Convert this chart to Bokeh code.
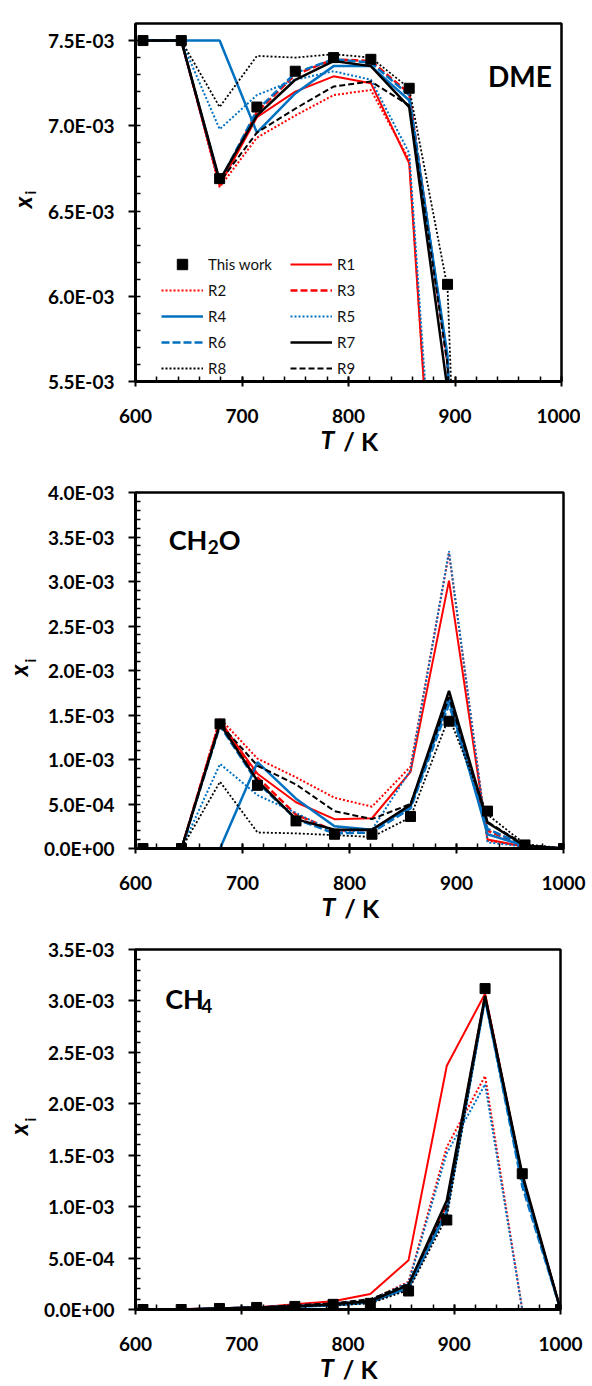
from bokeh.plotting import figure
from bokeh.layouts import column
from bokeh.models import (Range1d, FixedTicker, CustomJSTickFormatter, Label,
                          Legend, LegendItem)
from bokeh.embed import file_html
from bokeh.resources import INLINE
import numpy as np

# ---------------- data ----------------
T = [607, 643, 679, 714, 750, 786, 821, 857, 893, 929, 964, 1000]
T_DME = [607, 643, 679, 714, 750, 786, 821, 857, 893, 929]

# DME mole fraction
dme_exp = [7.50e-3, 7.50e-3, 6.69e-3, 7.11e-3, 7.32e-3, 7.40e-3, 7.39e-3, 7.22e-3, 6.07e-3, 1.50e-3]
dme_R1 = [7.50e-3, 7.50e-3, 6.65e-3, 7.05e-3, 7.20e-3, 7.29e-3, 7.25e-3, 6.78e-3, 3.40e-3, 0.05e-3]
dme_R2 = [7.50e-3, 7.50e-3, 6.64e-3, 6.93e-3, 7.06e-3, 7.18e-3, 7.21e-3, 6.80e-3, 3.40e-3, 0.05e-3]
dme_R3 = [7.50e-3, 7.50e-3, 6.66e-3, 7.08e-3, 7.30e-3, 7.39e-3, 7.38e-3, 7.19e-3, 5.60e-3, 0.10e-3]
dme_R4 = [7.50e-3, 7.50e-3, 7.50e-3, 6.96e-3, 7.19e-3, 7.35e-3, 7.35e-3, 7.15e-3, 5.65e-3, 0.10e-3]
dme_R5 = [7.50e-3, 7.50e-3, 6.98e-3, 7.18e-3, 7.27e-3, 7.32e-3, 7.27e-3, 6.84e-3, 3.60e-3, 0.05e-3]
dme_R6 = [7.50e-3, 7.50e-3, 6.67e-3, 7.09e-3, 7.31e-3, 7.39e-3, 7.37e-3, 7.18e-3, 5.62e-3, 0.10e-3]
dme_R7 = [7.50e-3, 7.50e-3, 6.68e-3, 7.06e-3, 7.27e-3, 7.38e-3, 7.35e-3, 7.11e-3, 5.45e-3, 0.10e-3]
dme_R8 = [7.50e-3, 7.50e-3, 7.11e-3, 7.41e-3, 7.40e-3, 7.42e-3, 7.40e-3, 7.22e-3, 6.05e-3, 0.00e-3]
dme_R9 = [7.50e-3, 7.50e-3, 6.67e-3, 6.96e-3, 7.10e-3, 7.23e-3, 7.26e-3, 7.12e-3, 5.60e-3, 0.10e-3]

# CH2O mole fraction
ch2o_exp = [0.0, 0.0, 1.40e-3, 0.71e-3, 0.31e-3, 0.16e-3, 0.16e-3, 0.36e-3, 1.43e-3, 0.42e-3, 0.04e-3, 0.0]
ch2o_R1 = [0.0, 0.0, 1.42e-3, 0.84e-3, 0.52e-3, 0.33e-3, 0.34e-3, 0.86e-3, 3.01e-3, 0.10e-3, 0.02e-3, 0.0]
ch2o_R2 = [0.0, 0.0, 1.46e-3, 1.01e-3, 0.80e-3, 0.57e-3, 0.47e-3, 0.92e-3, 3.32e-3, 0.09e-3, 0.02e-3, 0.0]
ch2o_R3 = [0.0, 0.0, 1.44e-3, 0.80e-3, 0.38e-3, 0.20e-3, 0.21e-3, 0.48e-3, 1.70e-3, 0.20e-3, 0.03e-3, 0.0]
ch2o_R4 = [0.0, 0.0, 0.0, 0.97e-3, 0.56e-3, 0.25e-3, 0.21e-3, 0.47e-3, 1.68e-3, 0.16e-3, 0.03e-3, 0.0]
ch2o_R5 = [0.0, 0.0, 0.95e-3, 0.60e-3, 0.40e-3, 0.18e-3, 0.21e-3, 0.88e-3, 3.34e-3, 0.07e-3, 0.02e-3, 0.0]
ch2o_R6 = [0.0, 0.0, 1.38e-3, 0.74e-3, 0.33e-3, 0.17e-3, 0.18e-3, 0.45e-3, 1.62e-3, 0.22e-3, 0.03e-3, 0.0]
ch2o_R7 = [0.0, 0.0, 1.40e-3, 0.76e-3, 0.33e-3, 0.21e-3, 0.21e-3, 0.49e-3, 1.77e-3, 0.29e-3, 0.03e-3, 0.0]
ch2o_R8 = [0.0, 0.0, 0.75e-3, 0.18e-3, 0.17e-3, 0.15e-3, 0.13e-3, 0.35e-3, 1.48e-3, 0.38e-3, 0.05e-3, 0.0]
ch2o_R9 = [0.0, 0.0, 1.40e-3, 0.93e-3, 0.72e-3, 0.42e-3, 0.33e-3, 0.50e-3, 1.70e-3, 0.30e-3, 0.04e-3, 0.0]

# CH4 mole fraction
ch4_exp = [0.0, 0.0, 0.01e-3, 0.02e-3, 0.03e-3, 0.05e-3, 0.06e-3, 0.18e-3, 0.87e-3, 3.12e-3, 1.32e-3, 0.0]
ch4_R1 = [0.0, 0.005e-3, 0.01e-3, 0.02e-3, 0.05e-3, 0.08e-3, 0.15e-3, 0.48e-3, 2.37e-3, 3.07e-3, 1.30e-3, 0.0]
ch4_R2 = [0.0, 0.0, 0.01e-3, 0.02e-3, 0.04e-3, 0.06e-3, 0.09e-3, 0.27e-3, 1.58e-3, 2.27e-3, 0.0, 0.0]
ch4_R3 = [0.0, 0.0, 0.01e-3, 0.02e-3, 0.03e-3, 0.05e-3, 0.08e-3, 0.23e-3, 1.02e-3, 3.05e-3, 1.28e-3, 0.0]
ch4_R4 = [0.0, 0.0, 0.01e-3, 0.02e-3, 0.03e-3, 0.04e-3, 0.07e-3, 0.21e-3, 0.95e-3, 3.02e-3, 1.25e-3, 0.0]
ch4_R5 = [0.0, 0.0, 0.01e-3, 0.02e-3, 0.04e-3, 0.06e-3, 0.09e-3, 0.26e-3, 1.52e-3, 2.19e-3, 0.0, 0.0]
ch4_R6 = [0.0, 0.0, 0.01e-3, 0.02e-3, 0.03e-3, 0.04e-3, 0.07e-3, 0.22e-3, 0.97e-3, 3.03e-3, 1.20e-3, 0.0]
ch4_R7 = [0.0, 0.0, 0.01e-3, 0.02e-3, 0.03e-3, 0.05e-3, 0.08e-3, 0.24e-3, 1.06e-3, 3.05e-3, 1.32e-3, 0.0]
ch4_R8 = [0.0, 0.0, 0.01e-3, 0.02e-3, 0.03e-3, 0.04e-3, 0.06e-3, 0.19e-3, 0.90e-3, 3.03e-3, 1.30e-3, 0.0]
ch4_R9 = [0.0, 0.0, 0.01e-3, 0.02e-3, 0.04e-3, 0.06e-3, 0.10e-3, 0.25e-3, 1.00e-3, 3.04e-3, 1.30e-3, 0.0]

series_names = ["R1", "R2", "R3", "R4", "R5", "R6", "R7", "R8", "R9"]
x_ticks = [600, 700, 800, 900, 1000]
dme_yticks = [5.5e-3, 6.0e-3, 6.5e-3, 7.0e-3, 7.5e-3]
ch2o_yticks = [0.0, 0.5e-3, 1.0e-3, 1.5e-3, 2.0e-3, 2.5e-3, 3.0e-3, 3.5e-3, 4.0e-3]
ch4_yticks = [0.0, 0.5e-3, 1.0e-3, 1.5e-3, 2.0e-3, 2.5e-3, 3.0e-3, 3.5e-3]

# ---------------- styles ----------------
RED = "#FF0000"
BLUE = "#0070C0"
BLACK = "#000000"
STYLE = {
    "R1": dict(line_color=RED, line_width=2.0, line_dash="solid"),
    "R2": dict(line_color=RED, line_width=2.0, line_dash="2 2"),
    "R3": dict(line_color=RED, line_width=2.5, line_dash="7 3"),
    "R4": dict(line_color=BLUE, line_width=2.5, line_dash="solid"),
    "R5": dict(line_color=BLUE, line_width=2.0, line_dash="2 2"),
    "R6": dict(line_color=BLUE, line_width=2.5, line_dash="8 3"),
    "R7": dict(line_color=BLACK, line_width=2.5, line_dash="solid"),
    "R8": dict(line_color=BLACK, line_width=1.8, line_dash="2 2"),
    "R9": dict(line_color=BLACK, line_width=2.0, line_dash="6 3"),
}

FONT = "Lato"
NBSP = "\u00a0"

TICK_CODE = """
if (Math.abs(tick) < 1e-15) { return '0.0E+00'; }
var e = Math.floor(Math.log10(Math.abs(tick)) + 1e-9);
var m = Math.round(tick / Math.pow(10, e) * 10) / 10;
if (Math.abs(m) >= 10) { m = m / 10; e = e + 1; }
var sign = e < 0 ? '-' : '+';
var a = Math.abs(e);
return m.toFixed(1) + 'E' + sign + (a < 10 ? '0' + a : '' + a);
"""


def make_panel(tx, exp, models, ymin, ymax, yticks, yminor_step,
               bl, fw, br, bt, fh, bb):
    p = figure(frame_width=fw, frame_height=fh,
               min_border_left=bl, min_border_right=br,
               min_border_top=bt, min_border_bottom=bb,
               x_range=Range1d(600, 1000), y_range=Range1d(ymin, ymax),
               output_backend="svg", toolbar_location=None)
    p.grid.visible = False
    p.background_fill_color = "white"
    p.border_fill_color = "white"
    p.outline_line_color = "black"
    p.outline_line_width = 2.5

    p.xaxis.ticker = FixedTicker(ticks=x_ticks,
                                 minor_ticks=list(np.arange(600, 1001, 20)))
    p.yaxis.ticker = FixedTicker(ticks=yticks,
                                 minor_ticks=list(np.arange(ymin, ymax + 1e-9, yminor_step)))
    p.yaxis.formatter = CustomJSTickFormatter(code=TICK_CODE)
    for ax in (p.xaxis[0], p.yaxis[0]):
        ax.axis_line_width = 3
        ax.axis_line_color = "black"
        ax.major_tick_line_width = 2
        ax.minor_tick_line_width = 1.5
        ax.major_tick_line_color = "black"
        ax.minor_tick_line_color = "black"
        ax.minor_tick_in = 5
        ax.minor_tick_out = 0
        ax.major_label_text_font = FONT
        ax.major_label_text_font_style = "bold"
        ax.major_label_text_font_size = "19px"
        ax.major_label_text_color = "black"
        ax.axis_label_text_font = FONT
        ax.axis_label_text_color = "black"
    p.xaxis.major_tick_in = 5
    p.xaxis.major_tick_out = 5
    p.xaxis.major_label_standoff = 22
    p.yaxis.major_tick_in = 0
    p.yaxis.major_tick_out = 7
    p.yaxis.major_label_standoff = 14

    # x-axis title: "/ K" as axis label, italic "T" as a side-panel label
    p.xaxis.axis_label = NBSP * 4 + "/ K"
    p.xaxis.axis_label_text_font_style = "bold"
    p.xaxis.axis_label_text_font_size = "25px"
    p.xaxis.axis_label_standoff = 0
    p.add_layout(Label(x=800, y=-57, x_units="data", y_units="screen", text="T",
                       x_offset=-14, text_align="right", text_baseline="middle",
                       text_font=FONT, text_font_style="bold italic",
                       text_font_size="25px", text_color="black"), "right")

    # y-axis title: italic "x" as axis label, subscript "i" as a side-panel label
    p.yaxis.axis_label = "x"
    p.yaxis.axis_label_text_font_style = "bold italic"
    p.yaxis.axis_label_text_font_size = "24px"
    p.yaxis.axis_label_standoff = 8
    p.add_layout(Label(x=-106, y=(ymin + ymax) / 2, x_units="screen", y_units="data",
                       y_offset=10, text="i", angle=np.pi / 2,
                       text_align="center", text_baseline="middle",
                       text_font=FONT, text_font_style="bold",
                       text_font_size="15px", text_color="black"), "above")

    renderers = {}
    for name in series_names:
        renderers[name] = p.line(tx, models[name], **STYLE[name])
    renderers["This work"] = p.scatter(tx, exp, marker="square", size=10,
                                       fill_color="black", line_color="black")
    return p, renderers


def add_species(p, x, y, parts):
    for txt, dx, dy, size in parts:
        p.add_layout(Label(x=x, y=y, text=txt, x_offset=dx, y_offset=dy,
                           text_align="left", text_baseline="alphabetic",
                           text_font=FONT, text_font_style="bold",
                           text_font_size=size, text_color="black"))


# ---------------- panel 1: DME ----------------
dme_models = dict(zip(series_names, [dme_R1, dme_R2, dme_R3, dme_R4, dme_R5,
                                     dme_R6, dme_R7, dme_R8, dme_R9]))
p1, r1 = make_panel(T_DME, dme_exp, dme_models, 5.5e-3, 7.6e-3, dme_yticks, 1e-4,
                    132, 426, 22, 23, 358, 72)
add_species(p1, 931, 7.29e-3, [("DME", 0, 0, "28px")])

order = ["This work", "R1", "R2", "R3", "R4", "R5", "R6", "R7", "R8", "R9"]
legend = Legend(items=[LegendItem(label=n, renderers=[r1[n]]) for n in order],
                location=(26, 0), orientation="horizontal", ncols=2,
                glyph_width=42, glyph_height=26, label_width=82, spacing=0,
                padding=0, margin=0, label_standoff=5,
                label_text_font=FONT, label_text_font_size="15px",
                label_text_color="#111111",
                border_line_alpha=0, background_fill_alpha=0)
p1.add_layout(legend)

# ---------------- panel 2: CH2O ----------------
ch2o_models = dict(zip(series_names, [ch2o_R1, ch2o_R2, ch2o_R3, ch2o_R4, ch2o_R5,
                                      ch2o_R6, ch2o_R7, ch2o_R8, ch2o_R9]))
p2, r2 = make_panel(T, ch2o_exp, ch2o_models, 0.0, 4.0e-3, ch2o_yticks, 1e-4,
                    127, 428, 25, 34, 356, 72)
add_species(p2, 631, 3.475e-3, [("CH", 0, 0, "27px"), ("2", 39, -8, "19px"),
                                ("O", 50, 0, "27px")])

# ---------------- panel 3: CH4 ----------------
ch4_models = dict(zip(series_names, [ch4_R1, ch4_R2, ch4_R3, ch4_R4, ch4_R5,
                                     ch4_R6, ch4_R7, ch4_R8, ch4_R9]))
p3, r3 = make_panel(T, ch4_exp, ch4_models, 0.0, 3.5e-3, ch4_yticks, 1e-4,
                    128, 425, 27, 24, 360, 72)
add_species(p3, 628, 3.02e-3, [("CH", 0, 0, "27px"), ("4", 36, -7, "19px")])

layout = column(p1, p2, p3, spacing=0)
open("out.html", "w").write(file_html(layout, INLINE))
